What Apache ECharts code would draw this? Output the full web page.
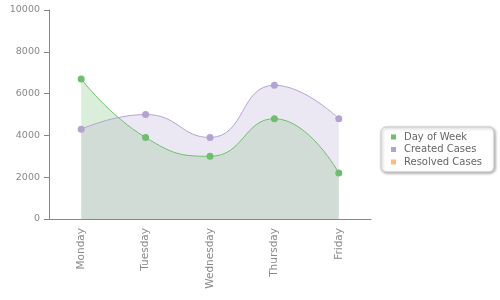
<!DOCTYPE html>
<html>
<head>
<meta charset="utf-8">
<script src="https://cdn.jsdelivr.net/npm/echarts@6/dist/echarts.min.js"></script>
<style>html,body{margin:0;padding:0;background:#fff}#c{width:500px;height:300px}</style>
</head>
<body>
<div id="c"></div>
<script>
var categories = ['Monday', 'Tuesday', 'Wednesday', 'Thursday', 'Friday'];
var dayOfWeek = [6700, 3900, 3000, 4800, 2200];
var createdCases = [4300, 5000, 3900, 6400, 4800];
var resolvedCases = [];
var yTicks = [0, 2000, 4000, 6000, 8000, 10000];

var chart = echarts.init(document.getElementById('c'), null, {renderer: 'canvas'});
var font = 'DejaVu Sans';
chart.setOption({
  animation: false,
  textStyle: {fontFamily: font},
  grid: {left: 49, right: 129, top: 10, bottom: 81, containLabel: false},
  legend: {
    orient: 'vertical',
    left: 381, top: 127,
    padding: [4, 12, 4, 10],
    itemWidth: 5, itemHeight: 5, itemGap: 0.5,
    icon: 'rect',
    backgroundColor: '#fff',
    borderColor: '#c8c8c8', borderWidth: 1, borderRadius: 5,
    shadowColor: 'rgba(0,0,0,0.35)', shadowBlur: 3, shadowOffsetX: 1, shadowOffsetY: 1,
    textStyle: {fontFamily: font, fontSize: 10, color: '#666', lineHeight: 12, padding: [0, 0, 0, 3]},
    data: [
      {name: 'Day of Week', itemStyle: {color: '#6cbf6c'}},
      {name: 'Created Cases', itemStyle: {color: '#b3a3d3'}},
      {name: 'Resolved Cases', itemStyle: {color: '#ffbb77'}}
    ]
  },
  xAxis: {
    type: 'category',
    data: categories,
    boundaryGap: true,
    axisLine: {lineStyle: {color: '#888'}},
    axisTick: {alignWithLabel: true, length: 5, lineStyle: {color: '#888'}},
    axisLabel: {rotate: 90, color: '#888', fontFamily: font, fontSize: 10.5, margin: 9}
  },
  yAxis: {
    type: 'value',
    min: yTicks[0], max: yTicks[yTicks.length - 1], interval: yTicks[1] - yTicks[0],
    axisLine: {show: true, lineStyle: {color: '#888'}},
    axisTick: {show: true, length: 5, lineStyle: {color: '#888'}},
    splitLine: {show: false},
    axisLabel: {color: '#888', fontFamily: font, fontSize: 9.5, margin: 9,
      formatter: function (v) { return String(v); }}
  },
  series: [
    {
      name: 'Day of Week', type: 'line', data: dayOfWeek, smooth: true,
      symbol: 'circle', symbolSize: 7,
      itemStyle: {color: '#6cbf6c'},
      lineStyle: {color: '#6cbf6c', width: 1},
      areaStyle: {color: 'rgba(106,191,105,0.36)'}
    },
    {
      name: 'Created Cases', type: 'line', data: createdCases, smooth: true,
      symbol: 'circle', symbolSize: 7,
      itemStyle: {color: '#b3a3d3'},
      lineStyle: {color: '#b3a3d3', width: 1},
      areaStyle: {color: 'rgba(187,172,212,0.4)'}
    },
    {
      name: 'Resolved Cases', type: 'line', data: resolvedCases, smooth: true,
      symbol: 'circle', symbolSize: 7,
      itemStyle: {color: '#ffbb77'},
      lineStyle: {color: '#ffbb77', width: 1},
      areaStyle: {color: 'rgba(255,187,119,0.4)'}
    }
  ]
});
</script>
</body>
</html>
